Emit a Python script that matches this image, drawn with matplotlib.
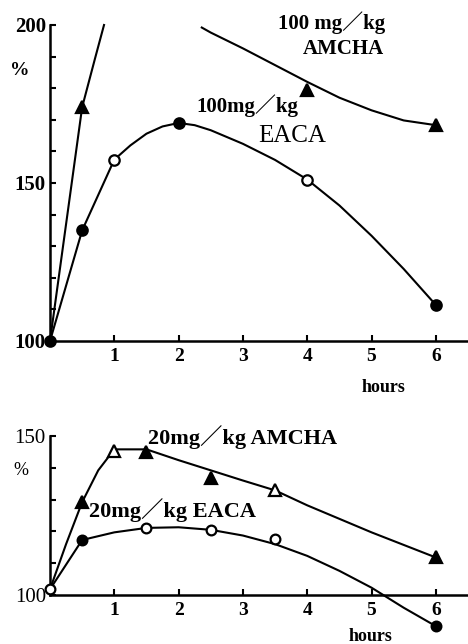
import numpy as np
import matplotlib
matplotlib.use("Agg")
import matplotlib.pyplot as plt

# 読み取った値 (時間, %)
h_eaca100 = [0, 0.5, 1, 2, 4, 6]
v_eaca100 = [100, 135, 157.4, 169, 151, 111.4]
h_eaca100_curve = [0, 0.5, 1, 1.25, 1.5, 1.75, 2, 2.25, 2.5, 3, 3.5, 4, 4.5, 5, 5.5, 6]
v_eaca100_curve = [100, 135, 157.4, 161.9, 165.6, 167.9, 169, 168.3, 166.7, 162.4, 157.3, 151.1, 142.9, 133.3, 122.8, 111.4]

h_amcha100 = [0, 0.5, 4, 6]
v_amcha100 = [100, 174, 179.4, 168.3]
h_amcha100_curve = [0, 0.5, 0.7, 0.84, np.nan, 2.36, 2.5, 3, 3.5, 4, 4.5, 5, 5.5, 6]
v_amcha100_curve = [100, 174, 189.4, 200, np.nan, 199.2, 197.6, 192.6, 187.3, 182, 177, 173, 169.8, 168.3]

h_amcha20 = [0, 0.5, 1, 1.5, 2.5, 3.5, 6]
v_amcha20 = [101.8, 129.2, 145.3, 145, 136.9, 133.1, 111.8]
h_amcha20_curve = [0, 0.25, 0.5, 0.75, 1, 1.5, 2, 2.5, 3, 3.5, 4, 5, 6]
v_amcha20_curve = [101.8, 116, 129.2, 139.2, 145.8, 145.8, 142.4, 139.2, 136, 132.9, 128.2, 119.7, 111.8]

h_eaca20 = [0, 0.5, 1.5, 2.5, 3.5, 6]
v_eaca20 = [101.8, 117.3, 121.1, 120.5, 117.6, 90.2]
h_eaca20_curve = [0, 0.5, 1, 1.5, 2, 2.5, 3, 3.5, 4, 4.5, 5, 5.5, 6]
v_eaca20_curve = [101.8, 117.3, 119.7, 121.1, 121.3, 120.5, 118.7, 116, 112.3, 107.6, 102.3, 96, 90.2]

xticks = [1, 2, 3, 4, 5, 6]

fam = ['Liberation Serif', 'Noto Sans CJK JP']
plt.rcParams['font.family'] = fam

fig = plt.figure(figsize=(4.68, 6.44), dpi=100)
ax1 = fig.add_axes([50/468, 1-341/644, 418/468, 316/644])
ax2 = fig.add_axes([50/468, 1-595/644, 418/468, 159/644])


def style(ax, ylo, yhi, ymajor, ybold):
    ax.set_xlim(0, 6.5)
    ax.set_ylim(ylo, yhi)
    for s in ['top', 'right']:
        ax.spines[s].set_visible(False)
    for s in ['left', 'bottom']:
        ax.spines[s].set_linewidth(1.8)
    ax.set_xticks(xticks)
    ax.set_xticklabels([str(t) for t in xticks], fontsize=14, fontweight='bold')
    ax.set_yticks(ymajor)
    ax.set_yticks(np.arange(ylo, yhi + 1, 10), minor=True)
    ax.set_yticklabels([str(t) for t in ymajor], fontsize=15,
                       fontweight='bold' if ybold else 'normal')
    ax.tick_params(axis='x', direction='in', length=4, width=1.5, pad=5)
    ax.tick_params(axis='y', which='both', direction='in', length=4, width=1.5, pad=3)


def marks(ax, h, v, m, faces, size):
    for x, y, fc in zip(h, v, faces):
        ax.plot(x, y, marker=m, ms=size, mfc=fc, mec='black', mew=1.6,
                linestyle='none', clip_on=False, zorder=4)


# 上段
style(ax1, 100, 200, [100, 150, 200], True)
ax1.plot(h_eaca100_curve, v_eaca100_curve, color='black', lw=1.5, clip_on=False)
ax1.plot(h_amcha100_curve, v_amcha100_curve, color='black', lw=1.5, clip_on=False)
marks(ax1, h_eaca100, v_eaca100, 'o', ['black', 'black', 'white', 'black', 'white', 'black'], 7.5)
marks(ax1, h_amcha100[1:], v_amcha100[1:], '^', ['black'] * 3, 8.5)

ax1.text(4.38, 200.6, '100 mg／kg', ha='center', va='center', fontsize=15, fontweight='bold', family=fam)
ax1.text(4.56, 192.4, 'AMCHA', ha='center', va='center', fontsize=15, fontweight='bold', family=fam)
ax1.text(3.07, 174.6, '100mg／kg', ha='center', va='center', fontsize=15, fontweight='bold', family=fam)
ax1.text(3.77, 164.8, 'EACA', ha='center', va='center', fontsize=18, family=fam)
ax1.text(-0.47, 185.7, '%', ha='center', va='center', fontsize=14, fontweight='bold', family=fam)
ax1.text(5.19, 85.4, 'hours', ha='center', va='center', fontsize=13, fontweight='bold', family=fam)

# 下段
style(ax2, 100, 150, [100, 150], False)
ax2.plot(h_amcha20_curve, v_amcha20_curve, color='black', lw=1.5, clip_on=False)
ax2.plot(h_eaca20_curve, v_eaca20_curve, color='black', lw=1.5, clip_on=False)
marks(ax2, h_amcha20[1:], v_amcha20[1:], '^',
      ['black', 'white', 'black', 'black', 'white', 'black'], 8.5)
marks(ax2, h_eaca20, v_eaca20, 'o', ['white', 'black', 'white', 'white', 'white', 'black'], 7)

ax2.text(2.99, 149.7, '20mg／kg AMCHA', ha='center', va='center', fontsize=16, fontweight='bold', family=fam)
ax2.text(1.91, 126.6, '20mg／kg EACA', ha='center', va='center', fontsize=16, fontweight='bold', family=fam)
ax2.text(-0.45, 139.2, '%', ha='center', va='center', fontsize=13, family=fam)
ax2.text(4.98, 86.9, 'hours', ha='center', va='center', fontsize=13, fontweight='bold', family=fam)

fig.savefig('out.png', dpi=100)
